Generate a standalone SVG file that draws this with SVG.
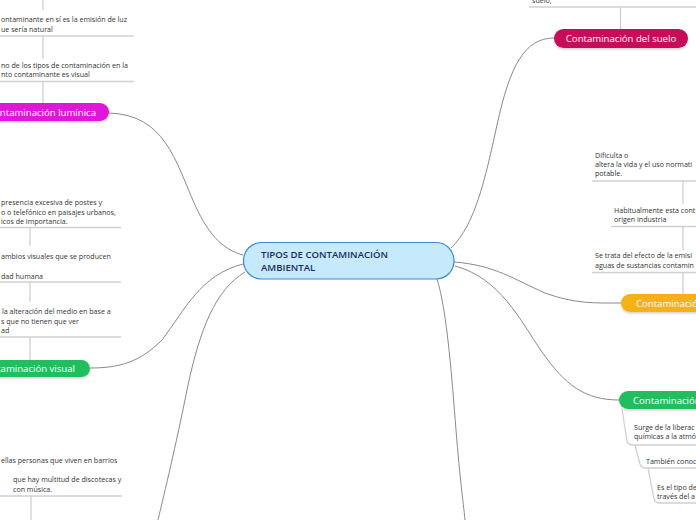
<svg xmlns="http://www.w3.org/2000/svg" width="696" height="520" viewBox="0 0 696 520">
<defs>
<filter id="sh" x="-10%" y="-30%" width="120%" height="170%">
<feDropShadow dx="0" dy="1.5" stdDeviation="1.2" flood-color="#000" flood-opacity="0.18"/>
</filter>
</defs>
<style>
.conn{fill:none;stroke:#8a8a8a;stroke-width:1}
.sub{fill:none;stroke:#d0d0d0;stroke-width:1.3}
.t{font-family:"Open Sans","Noto Sans",sans-serif;font-size:7.1px;fill:#333}
.pl{font-family:"Open Sans","Noto Sans",sans-serif;font-size:9.6px;fill:#fff}
.ct{font-family:"Open Sans","Noto Sans",sans-serif;font-size:9.6px;font-weight:600;fill:#1b2d5a}
</style>
<rect width="696" height="520" fill="#fff"/>
<g id="connectors">
<path class="conn" d="M243,255 C225,250 210,238 195,205 C175,160 165,115 109,113"/>
<path class="conn" d="M243,264 C200,275 185,310 162,340 C140,362 120,368 90,368"/>
<path class="conn" d="M245,272 C215,290 200,330 188,385 C175,450 165,490 158,520"/>
<path class="conn" d="M451,248 C475,225 485,180 497,125 C510,65 525,38 554,38"/>
<path class="conn" d="M454,262 C495,265 515,280 545,293 C575,304 595,303 621,303"/>
<path class="conn" d="M455,266 C500,278 520,320 542,352 C565,385 585,400 619,400"/>
<path class="conn" d="M437,279 C447,310 452,380 456,430 C460,480 463,500 465,520"/>
</g>
<g id="luminica-details">
<line class="sub" x1="43" y1="0" x2="43" y2="10"/>
<text class="t" x="1" y="22">ontaminante en sí es la emisión de luz</text>
<text class="t" x="1" y="32">ue sería natural</text>
<line class="sub" x1="0" y1="36" x2="134" y2="36"/>
<line class="sub" x1="43" y1="36" x2="43" y2="59"/>
<text class="t" x="1" y="67.5">no de los tipos de contaminación en la</text>
<text class="t" x="1" y="77">nto contaminante es visual</text>
<line class="sub" x1="0" y1="81.5" x2="134" y2="81.5"/>
<line class="sub" x1="43" y1="81.5" x2="43" y2="103"/>
</g>
<g id="luminica">
<rect x="-30" y="103" width="139" height="18" rx="9" fill="#e012d8" filter="url(#sh)"/>
<text class="pl" x="96" y="116" text-anchor="end">ontaminación lumínica</text>
</g>
<g id="visual-details">
<text class="t" x="1" y="205">presencia excesiva de postes y</text>
<text class="t" x="1" y="215">o o telefónico en paisajes urbanos,</text>
<text class="t" x="1" y="224">icos de importancia.</text>
<line class="sub" x1="0" y1="227.5" x2="121" y2="227.5"/>
<line class="sub" x1="30" y1="227.5" x2="30" y2="246"/>
<text class="t" x="1" y="259">ambios visuales que se producen</text>
<text class="t" x="1" y="279">dad humana</text>
<line class="sub" x1="0" y1="282" x2="121" y2="282"/>
<line class="sub" x1="30" y1="282" x2="30" y2="302"/>
<text class="t" x="2" y="314">la alteración del medio en base a</text>
<text class="t" x="1" y="323.5">s que no tienen que ver</text>
<text class="t" x="1" y="333">ad</text>
<line class="sub" x1="0" y1="337" x2="121" y2="337"/>
<line class="sub" x1="30" y1="337" x2="30" y2="360"/>
</g>
<g id="visual">
<rect x="-30" y="360" width="120" height="17" rx="8.5" fill="#22bd5f" filter="url(#sh)"/>
<text class="pl" x="75" y="372" text-anchor="end">ntaminación visual</text>
</g>
<g id="acustica-details">
<text class="t" x="1" y="463">ellas personas que viven en barrios</text>
<text class="t" x="13" y="482">que hay multitud de discotecas y</text>
<text class="t" x="13" y="492">con música.</text>
<line class="sub" x1="0" y1="496" x2="122" y2="496"/>
<line class="sub" x1="31" y1="496" x2="31" y2="520"/>
</g>
<g id="central">
<rect x="243.5" y="242.5" width="210.5" height="36.5" rx="18" fill="#c6eafb" stroke="#3b8ad8" stroke-width="1.2"/>
<text class="ct" x="261" y="257.5">TIPOS DE CONTAMINACIÓN</text>
<text class="ct" x="261" y="270.5">AMBIENTAL</text>
</g>
<g id="suelo-details">
<text class="t" x="532" y="3">suelo,</text>
<line class="sub" x1="529" y1="7" x2="696" y2="7"/>
<line class="sub" x1="620.5" y1="7" x2="620.5" y2="29"/>
</g>
<g id="suelo">
<rect x="554" y="29" width="134" height="19" rx="9.5" fill="#c6105a" filter="url(#sh)"/>
<text class="pl" x="621" y="42" text-anchor="middle">Contaminación del suelo</text>
</g>
<g id="agua-details">
<text class="t" x="595" y="157.5">Dificulta o</text>
<text class="t" x="595" y="167"> altera la vida y el uso normati</text>
<text class="t" x="595" y="176">potable.</text>
<line class="sub" x1="592" y1="181" x2="696" y2="181"/>
<line class="sub" x1="683" y1="181" x2="683" y2="204"/>
<text class="t" x="614" y="213">Habitualmente esta cont</text>
<text class="t" x="614" y="222">origen industria</text>
<line class="sub" x1="611" y1="226.5" x2="696" y2="226.5"/>
<line class="sub" x1="683" y1="226.5" x2="683" y2="250"/>
<text class="t" x="595" y="258">Se trata del efecto de la emisi</text>
<text class="t" x="595" y="268">aguas de sustancias contamin</text>
<line class="sub" x1="592" y1="272.5" x2="696" y2="272.5"/>
<line class="sub" x1="683" y1="272.5" x2="683" y2="294"/>
</g>
<g id="agua">
<rect x="621" y="294" width="110" height="18" rx="9" fill="#f5b213" filter="url(#sh)"/>
<text class="pl" x="636" y="307">Contaminación</text>
</g>
<g id="atmosferica">
<rect x="619" y="391" width="110" height="18" rx="9" fill="#22bd5f" filter="url(#sh)"/>
<text class="pl" x="633" y="403.5">Contaminación</text>
</g>
<g id="atmosferica-details">
<path class="sub" d="M622,409 L627,441 Q628,445 633,445 L696,445"/>
<text class="t" x="634" y="430">Surge de la liberac</text>
<text class="t" x="634" y="439">químicas a la atmó</text>
<path class="sub" d="M635,445 L640,464 Q641,468 646,468 L696,468"/>
<text class="t" x="646" y="464">También conoc</text>
<path class="sub" d="M648,468 L654,499 Q655,503 660,503 L696,503"/>
<text class="t" x="657" y="490">Es el tipo de</text>
<text class="t" x="657" y="499">través del a</text>
</g>
</svg>
